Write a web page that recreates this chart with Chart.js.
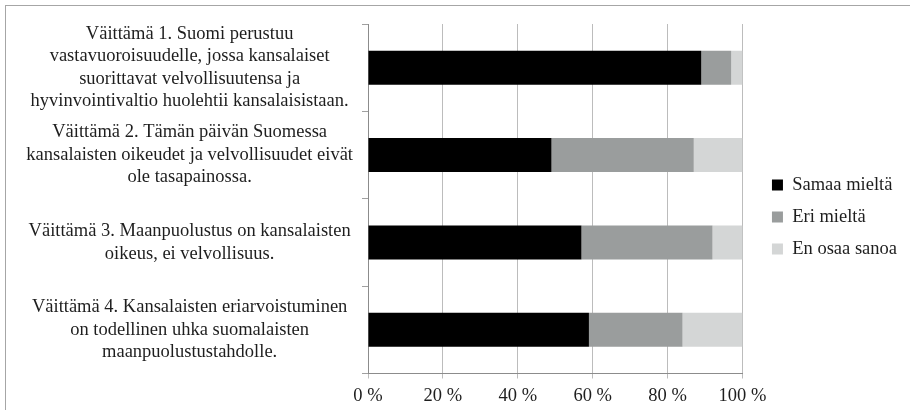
<!DOCTYPE html>
<html>
<head>
<meta charset="utf-8">
<script src="https://cdn.jsdelivr.net/npm/chart.js@4"></script>
<style>
  body { margin: 0; background: #fff; overflow: hidden; }
  #wrap { position: relative; width: 910px; height: 410px; }
  #frame { position: absolute; left: 5px; top: 5px; width: 920px; height: 420px; border: 1px solid #a6a6a6; }
  canvas { position: absolute; left: 0; top: 0; }
</style>
</head>
<body>
<div id="wrap">
  <div id="frame"></div>
  <canvas id="chart" width="910" height="410"></canvas>
</div>
<script>
// väittämät, rivitettynä kuten alkuperäisessä
const categories = [
    ['Väittämä 1. Suomi perustuu', 'vastavuoroisuudelle, jossa kansalaiset', 'suorittavat velvollisuutensa ja', 'hyvinvointivaltio huolehtii kansalaisistaan.'],
    ['Väittämä 2. Tämän päivän Suomessa', 'kansalaisten oikeudet ja velvollisuudet eivät', 'ole tasapainossa.'],
    ['Väittämä 3. Maanpuolustus on kansalaisten', 'oikeus, ei velvollisuus.'],
    ['Väittämä 4. Kansalaisten eriarvoistuminen', 'on todellinen uhka suomalaisten', 'maanpuolustustahdolle.']
];
const seriesNames = ['Samaa mieltä', 'Eri mieltä', 'En osaa sanoa'];
const samaa = [89, 49, 57, 59];
const eri = [8, 38, 35, 25];
const enOsaa = [3, 13, 8, 16];
const xTicks = [0, 20, 40, 60, 80, 100];

const colors = ['#000000', '#9a9d9d', '#d4d6d6'];
Chart.defaults.font.family = "'Times New Roman', 'Liberation Serif', serif";
Chart.defaults.font.size = 18.5;
Chart.defaults.color = '#1e1e1e';

const ctx = document.getElementById('chart').getContext('2d');
const chart = new Chart(ctx, {
    type: 'bar',
    data: {
        labels: categories,
        datasets: [samaa, eri, enOsaa].map((d, i) => ({
            label: seriesNames[i],
            data: d,
            backgroundColor: colors[i],
            categoryPercentage: 1,
            barPercentage: 0.39
        }))
    },
    options: {
        indexAxis: 'y',
        responsive: false,
        animation: false,
        layout: { padding: { left: 13, top: 24, right: 3, bottom: 0 } },
        scales: {
            x: {
                stacked: true,
                min: 0,
                max: 100,
                afterBuildTicks: (s) => { s.ticks = xTicks.map(v => ({ value: v })); },
                ticks: { padding: 7, callback: (v) => v + ' %' },
                grid: { color: '#bcbcbc', tickLength: 5 },
                border: { color: '#8c8c8c' },
                afterFit: (s) => { s.height = 36.5; }
            },
            y: {
                stacked: true,
                ticks: { autoSkip: false, font: { lineHeight: 1.22 }, padding: 9, crossAlign: 'center' },
                grid: { drawOnChartArea: false, color: '#a0a0a0', tickLength: 6 },
                border: { color: '#8c8c8c' },
                // pitkät monirivinen otsikot: kiinteä leveys, ei ylimääräistä pystytäytettä
                afterFit: (s) => { s.width = 355; s.paddingTop = 0; s.paddingBottom = 0; }
            },
            // tyhjä akseli: väli piirtoalueen ja selitteen väliin
            gap: {
                type: 'category',
                axis: 'y',
                position: 'right',
                grid: { display: false },
                ticks: { display: false },
                border: { display: false },
                afterFit: (s) => { s.width = 16; }
            }
        },
        plugins: {
            legend: {
                position: 'right',
                labels: { boxWidth: 11, boxHeight: 11, padding: 13.5 }
            },
            tooltip: { enabled: false }
        }
    }
});
</script>
</body>
</html>
